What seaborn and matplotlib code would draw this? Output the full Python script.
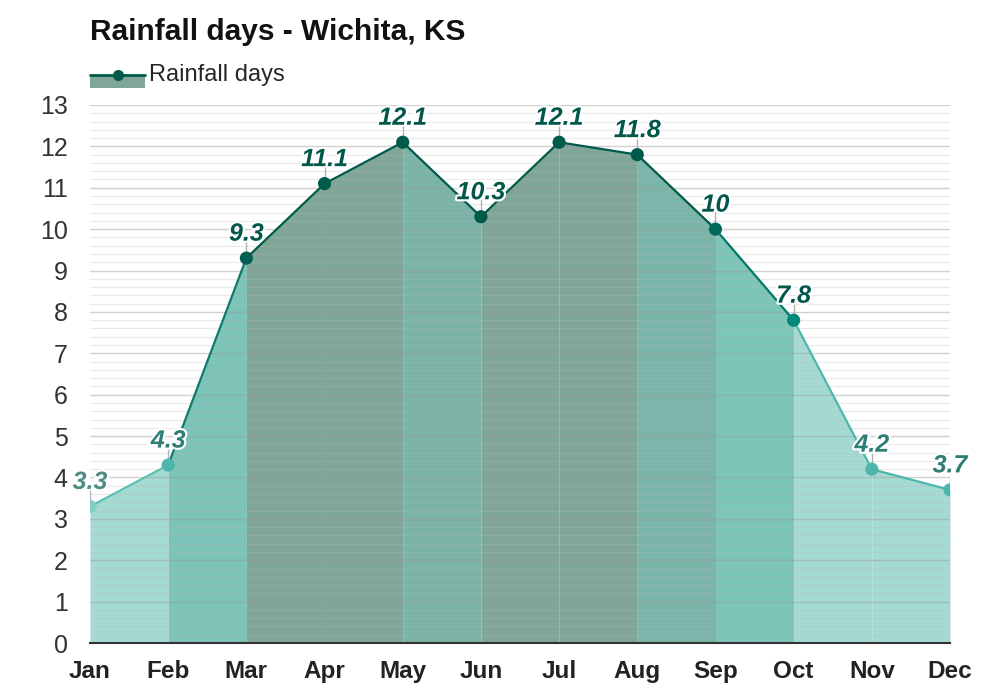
import matplotlib
matplotlib.use("Agg")
import matplotlib.pyplot as plt
import matplotlib.patheffects as pe
from matplotlib.lines import Line2D
from matplotlib.patches import Rectangle
from matplotlib.legend_handler import HandlerBase
import seaborn as sns
import numpy as np
import pandas as pd

months = ["Jan", "Feb", "Mar", "Apr", "May", "Jun", "Jul", "Aug", "Sep", "Oct", "Nov", "Dec"]
rain_days = [3.3, 4.3, 9.3, 11.1, 12.1, 10.3, 12.1, 11.8, 10.0, 7.8, 4.2, 3.7]
value_labels = ["3.3", "4.3", "9.3", "11.1", "12.1", "10.3", "12.1", "11.8", "10", "7.8", "4.2", "3.7"]

# style colours (per month / per segment)
seg_fill = ["#a5dad2", "#7cc3b8", "#80a698", "#80a698", "#7bb3a7", "#80a698",
            "#80a698", "#7bb5a9", "#7cc5b7", "#a5dad2", "#a5dad2"]
seg_line = ["#5cc0b2", "#0e7a6c", "#005a4a", "#005a4a", "#005a4a", "#005a4a",
            "#005a4a", "#005a4a", "#00796b", "#4db6ac", "#4db6ac"]
pt_color = ["#80cec4", "#4db6ac", "#005f50", "#005a4a", "#005a4a", "#005a4a",
            "#005a4a", "#005a4a", "#006b5c", "#00897b", "#4db6ac", "#4db6ac"]
lbl_color = ["#4e8c84", "#2f7e73", "#00574a", "#00574a", "#00574a", "#00574a",
             "#00574a", "#00574a", "#00574a", "#00574a", "#2f7e73", "#2f7e73"]

sns.set_theme(style="white")
plt.rcParams["font.family"] = ["Liberation Sans", "DejaVu Sans"]

df = pd.DataFrame({"month": months, "x": np.arange(len(months)), "days": rain_days})

fig = plt.figure(figsize=(10, 7), dpi=100)
ax = fig.add_axes([0.09, 0.0814, 0.86, 0.7686])

x = df["x"].values
y = df["days"].values

# fills per segment
for i in range(len(x) - 1):
    ax.fill_between(x[i:i + 2], 0, y[i:i + 2], color=seg_fill[i], lw=0, zorder=1)

# gridlines
for v in np.arange(0, 13.01, 0.2):
    if abs(v - round(v)) < 1e-6:
        ax.axhline(v, color="#9a9a9a", lw=1.0, alpha=0.45, zorder=2)
    else:
        ax.axhline(v, color="#b8b8b8", lw=0.8, alpha=0.3, zorder=2)

# line segments
for i in range(len(x) - 1):
    ax.plot(x[i:i + 2], y[i:i + 2], color=seg_line[i], lw=1.6, zorder=3,
            solid_capstyle="round")

sns.scatterplot(data=df, x="x", y="days", hue="month", palette=pt_color,
                s=90, edgecolor="none", legend=False, zorder=4, ax=ax)

# value labels with small tick
for xi, yi, lab, c in zip(x, y, value_labels, lbl_color):
    ax.plot([xi, xi], [yi + 0.15, yi + 0.45], color="#b0b0b0", lw=1, zorder=3)
    ax.annotate(lab, (xi, yi), xytext=(0, 9), textcoords="offset points",
                ha="center", va="bottom", fontsize=18, fontweight="bold",
                fontstyle="italic", color=c, zorder=5,
                path_effects=[pe.withStroke(linewidth=3, foreground="white")])

ax.set_xlim(0, 11)
ax.set_ylim(0, 13)
ax.set_xticks(x)
ax.set_xticklabels(months, fontsize=17.5, fontweight="bold", color="#222222")
ax.set_yticks(range(0, 14))
ax.set_yticklabels([str(v) for v in range(0, 14)], fontsize=18, color="#333333")
ax.tick_params(axis="x", length=0, pad=12)
ax.tick_params(axis="y", length=0, pad=16)
ax.set_xlabel("")
ax.set_ylabel("")
for s in ["top", "right", "left"]:
    ax.spines[s].set_visible(False)
ax.spines["bottom"].set_color("#333333")
ax.spines["bottom"].set_linewidth(1.5)
ax.spines["bottom"].set_zorder(6)

fig.text(0.09, 0.954, "Rainfall days - Wichita, KS", fontsize=21.5, fontweight="bold",
         color="#111111", ha="left", va="center")


class AreaLineHandler(HandlerBase):
    def create_artists(self, legend, orig_handle, xdescent, ydescent, width, height,
                       fontsize, trans):
        yline = height * 0.4 - ydescent
        rect = Rectangle((-xdescent, yline - 9), width, 9,
                         facecolor="#7fa698", edgecolor="none", transform=trans)
        line = Line2D([-xdescent, -xdescent + width], [yline] * 2,
                      color="#005a4a", lw=2, transform=trans)
        mk = Line2D([-xdescent + width / 2], [yline], marker="o",
                    markersize=7, color="#005a4a", transform=trans)
        return [rect, line, mk]


leg = fig.legend([object()], ["Rainfall days"],
                 handler_map={object: AreaLineHandler()},
                 loc="center left", bbox_to_anchor=(0.09, 0.894), frameon=False,
                 borderpad=0, borderaxespad=0,
                 fontsize=17, handlelength=2.35, handleheight=1.0, handletextpad=0.15)

fig.savefig("out.png", dpi=100)
